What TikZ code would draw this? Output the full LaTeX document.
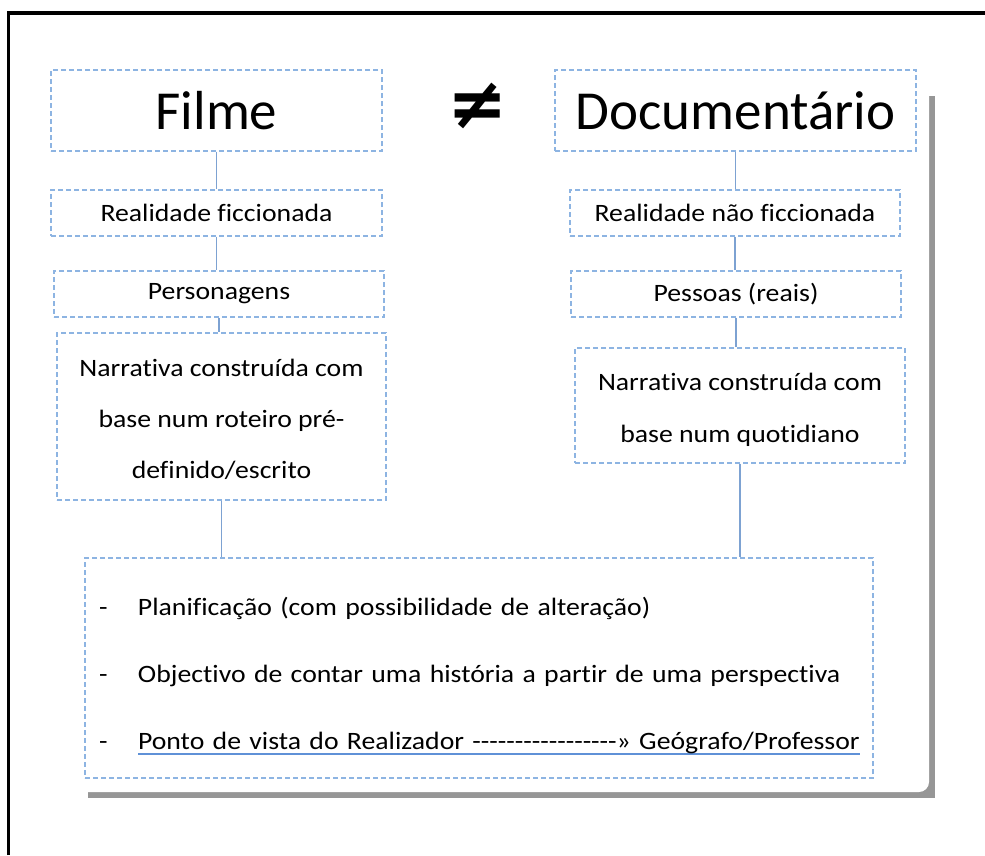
\documentclass[tikz,border=0pt]{standalone}
\usepackage{fontspec}
\setmainfont{Carlito}[Ligatures={TeXOff,NoCommon}]
\newfontfamily\textolargo{Carlito}[Ligatures={TeXOff,NoCommon},FakeStretch=1.11]
\newfontfamily\simbolo{DejaVu Sans}
\usepackage{tikz}
\definecolor{borda}{RGB}{141,180,226}
\definecolor{ligacao}{RGB}{125,162,210}
\definecolor{sombra}{RGB}{150,150,150}
\definecolor{sublinha}{RGB}{95,145,215}
\newcommand{\sublinhado}[1]{\setbox0\hbox{#1}\rlap{\color{sublinha}\rule[-5pt]{\wd0}{1.4pt}}\box0}

\begin{document}
\begin{tikzpicture}[x=1pt,y=-1pt]
\tikzset{caixa/.style = {draw=borda,line width=1.3pt,dash pattern=on 5pt off 3pt,minimum width=330pt,minimum height=46pt,inner sep=0pt,align=center,font=\textolargo\fontsize{25}{30}\selectfont}}
\tikzset{titulo/.style = {caixa,minimum height=81pt,font=\fontsize{55}{60}\selectfont}}
\tikzset{ligacao/.style = {draw=ligacao,line width=1.3pt}}
\useasboundingbox (0,0) rectangle (985,855);
% moldura e sombra
\draw[line width=3.5pt] (8.5,855) -- (8.5,13) -- (985,13);
\fill[sombra] (88,96) rectangle (935,798);
\fill[white,rounded corners=10pt] (20,30) rectangle (929,792);
% caixas
\node[titulo,minimum width=331pt] (filme) at (216.5,110.5) {Filme};
\node[titulo,minimum width=361pt] (docum) at (735.5,110.5) {Documentário};
\node (dif) at (478,106) {\simbolo\bfseries\fontsize{72}{72}\selectfont ≠};
\node[caixa,minimum width=331pt] (realf) at (216.5,213) {Realidade ficcionada};
\node[caixa] (realnf) at (735,213) {Realidade não ficcionada};
\node[caixa] (person) at (219,294) {Personagens};
\node[caixa] (pessoas) at (736,294) {Pessoas (reais)};
\node[caixa,minimum width=329pt,minimum height=167pt,font=\textolargo\fontsize{25}{51}\selectfont] (narrf) at (221.5,416.5)
{\rule{0pt}{24pt}Narrativa construída com\\base num roteiro pré-\\definido/escrito};
\node[caixa,minimum height=115pt,font=\textolargo\fontsize{25}{52}\selectfont] (narrd) at (740,405.5)
{\rule{0pt}{26pt}Narrativa construída com\\base num quotidiano};
\node[caixa,minimum width=788pt,minimum height=220pt,text width=760pt,align=left,font=\textolargo\fontsize{25}{67}\selectfont] (lista) at (479,668)
{\rule{0pt}{34pt}\makebox[39pt][l]{-}Planificação (com possibilidade de alteração)\\
\makebox[39pt][l]{-}Objectivo de contar uma história a partir de uma perspectiva\\
\makebox[39pt][l]{-}\sublinhado{Ponto de vista do Realizador -----------------» Geógrafo/Professor}};
% ligacoes
\draw[ligacao] (filme.south) -- (filme.south |- realf.north);
\draw[ligacao] (realf.south) -- (realf.south |- person.north);
\draw[ligacao] (person.south) -- (person.south |- narrf.north);
\draw[ligacao] (narrf.south) -- (narrf.south |- lista.north);
\draw[ligacao] (docum.south) -- (docum.south |- realnf.north);
\draw[ligacao] (realnf.south) -- (realnf.south |- pessoas.north);
\draw[ligacao] (pessoas.south) -- (pessoas.south |- narrd.north);
\draw[ligacao] (narrd.south) -- (narrd.south |- lista.north);
\end{tikzpicture}
\end{document}
